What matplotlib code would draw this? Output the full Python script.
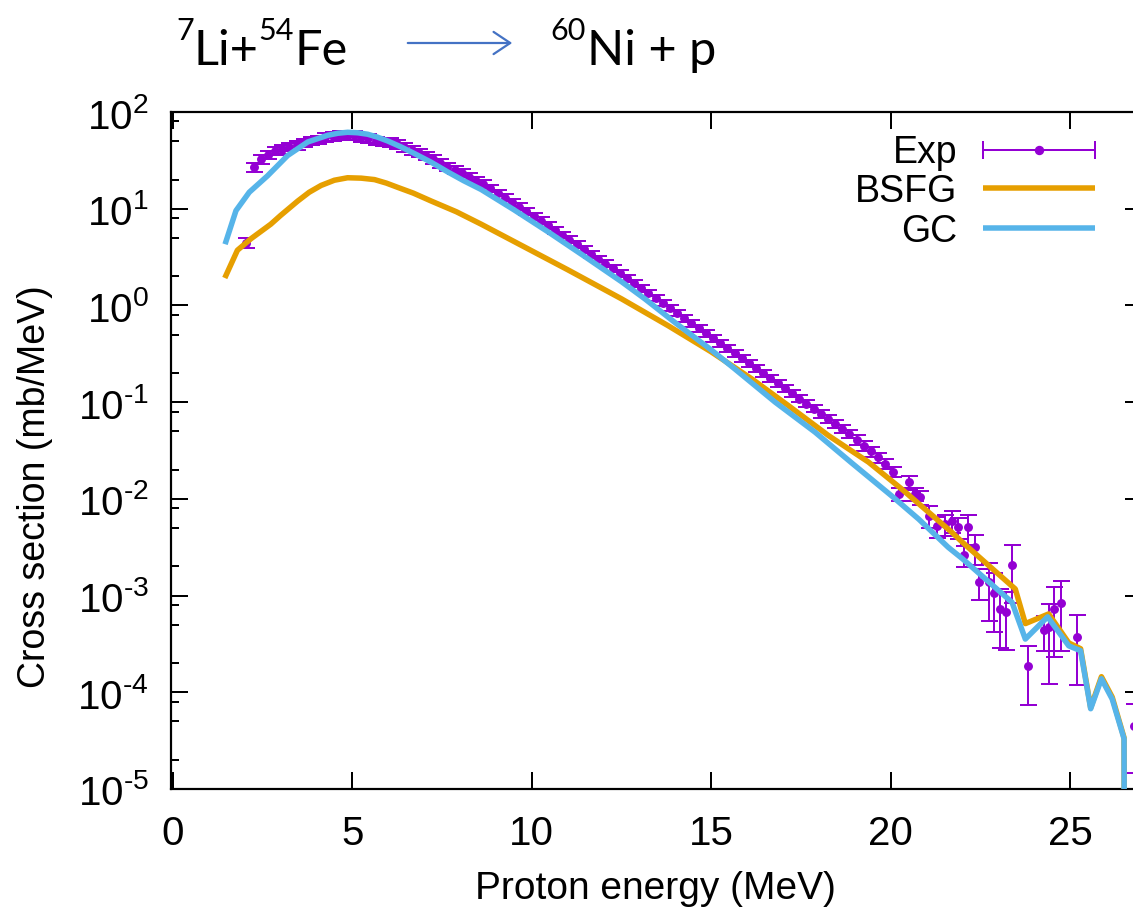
import matplotlib
matplotlib.use('Agg')
import matplotlib.pyplot as plt
from matplotlib.ticker import FixedLocator, LogLocator, NullFormatter
from matplotlib.patches import FancyArrowPatch

# ---------------- data ----------------
exp_E = [2.05, 2.25, 2.45, 2.65, 2.85, 3.05, 3.25, 3.45, 3.65, 3.85, 4.05, 4.25, 4.45, 4.65,
         4.85, 5.05, 5.25, 5.45, 5.65, 5.85, 6.05, 6.25, 6.45, 6.65, 6.85, 7.05, 7.25, 7.45,
         7.65, 7.85, 8.05, 8.25, 8.45, 8.65, 8.85, 9.05, 9.25, 9.45, 9.65, 9.85, 10.05, 10.25,
         10.45, 10.65, 10.85, 11.05, 11.25, 11.45, 11.65, 11.85, 12.05, 12.25, 12.45, 12.65,
         12.85, 13.05, 13.25, 13.45, 13.65, 13.85, 14.05, 14.25, 14.45, 14.65, 14.85, 15.05,
         15.25, 15.45, 15.65, 15.85, 16.05, 16.25, 16.45, 16.65, 16.85, 17.05, 17.25, 17.45,
         17.65, 17.85, 18.05, 18.25, 18.45, 18.65, 18.85, 19.05, 19.25, 19.45, 19.65, 19.85,
         20.05, 20.22, 20.5, 20.68, 20.82, 21.06, 21.29, 21.5, 21.71, 21.87, 22.03, 22.15,
         22.34, 22.45, 22.73, 22.89, 23.05, 23.22, 23.38, 23.82, 24.27, 24.4, 24.56, 24.73,
         25.2, 26.78]
exp_val = [4.47, 26.9, 32.4, 36.3, 39.8, 41.2, 43.7, 45.2, 47.9, 50.1, 51.9, 55.0, 56.2, 58.2,
           56.9, 57.5, 55.0, 53.7, 50.7, 49.5, 48.4, 46.2, 43.2, 40.3, 38.0, 35.1, 32.4, 29.5,
           27.2, 25.4, 23.4, 21.4, 19.5, 18.0, 16.2, 14.6, 13.0, 11.7, 10.5, 9.38, 8.39, 7.52,
           6.71, 6.00, 5.36, 4.79, 4.28, 3.82, 3.40, 3.03, 2.70, 2.41, 2.15, 1.91,
           1.70, 1.51, 1.35, 1.20, 1.06, 0.942, 0.836, 0.741, 0.658, 0.583, 0.518, 0.459,
           0.407, 0.361, 0.321, 0.284, 0.252, 0.224, 0.199, 0.176, 0.156, 0.139, 0.123, 0.109,
           0.0968, 0.0859, 0.0762, 0.0676, 0.0600, 0.0532, 0.0468, 0.0407, 0.0355, 0.0309,
           0.0269, 0.0232,
           0.0190, 0.0112, 0.0148, 0.0112, 0.0104, 6.7e-3, 5.25e-3, 5.5e-3, 5.96e-3, 5.08e-3,
           2.63e-3, 5.08e-3,
           3.16e-3, 1.39e-3, 1.37e-3, 1.06e-3, 7.26e-4, 6.82e-4, 2.07e-3, 1.86e-4, 4.41e-4,
           4.70e-4, 7.26e-4, 8.38e-4,
           3.76e-4, 4.52e-5]
exp_relerr = [0.12] + [0.10] * 33 + [0.08] * 31 + [0.09] * 15 + [0.10] * 5 + [0.12] * 6 + \
             [0.16] * 4 + [0.25] * 6 + [0.35] * 3 + [0.60] * 6 + [0.40, 0.74, 0.68, 0.68, 0.68,
                                                                0.68, 0.72, 0.80]

bsfg_E = [1.48, 1.8, 2.18, 2.73, 3.0, 3.48, 3.8, 4.13, 4.5, 4.87, 5.25, 5.62, 5.95, 6.27, 6.7,
          7.2, 7.9, 8.59, 10.0, 11.0, 12.5, 13.8, 15.0, 16.13, 17.15, 18.27, 19.38, 20.31,
          21.7, 22.0, 23.47, 23.75, 24.4, 24.96, 25.29, 25.57, 25.87, 26.17, 26.5, 26.52]
bsfg_val = [2.04, 3.72, 4.90, 6.92, 8.5, 12.0, 14.8, 17.4, 19.7, 20.9, 20.7, 20.0, 18.4, 16.6,
            14.5, 12.0, 9.3, 6.92, 3.67, 2.34, 1.17, 0.617, 0.331, 0.174, 0.092, 0.045, 0.024,
            0.0126, 4.52e-3, 3.55e-3, 1.17e-3, 5.13e-4, 6.46e-4, 3.24e-4, 2.82e-4, 6.92e-5,
            1.45e-4, 8.91e-5, 3.39e-5, 1e-9]

gc_E = [1.48, 1.76, 2.13, 2.64, 3.2, 3.76, 4.32, 4.6, 4.87, 5.15, 5.43, 5.7, 5.99, 6.35, 6.73,
        7.2, 7.66, 8.1, 8.59, 9.5, 10.5, 11.5, 12.5, 13.15, 14.0, 15.0, 15.66, 16.78, 17.89,
        18.92, 20.03, 20.78, 21.6, 22.0, 23.38, 23.75, 24.37, 24.96, 25.29, 25.57, 25.87,
        26.17, 26.5, 26.52]
gc_val = [4.57, 9.55, 14.8, 21.9, 35.5, 49.0, 57.5, 60.3, 61.7, 61.0, 58.9, 55.0, 50.1, 43.7,
          37.2, 30.2, 24.0, 19.5, 15.8, 9.77, 5.62, 3.16, 1.76, 1.17, 0.661, 0.347, 0.220,
          0.100, 0.049, 0.0234, 0.0107, 6.17e-3, 3.16e-3, 2.40e-3, 8.51e-4, 3.55e-4, 6.03e-4,
          3.02e-4, 2.69e-4, 6.76e-5, 1.38e-4, 8.51e-5, 3.31e-5, 1e-9]

x_ticks = [0, 5, 10, 15, 20, 25]
x_ticklabels = ['0', '5', '10', '15', '20', '25']
y_ticks = [1e-5, 1e-4, 1e-3, 1e-2, 1e-1, 1e0, 1e1, 1e2]
y_ticklabels = ['$10^{\u20105}$', '$10^{\u20104}$', '$10^{\u20103}$', '$10^{\u20102}$',
                '$10^{\u20101}$', '$10^{0}$', '$10^{1}$', '$10^{2}$']
legend_labels = ['Exp', 'BSFG', 'GC']

C_EXP = '#9400D3'
C_BSFG = '#E69F00'
C_GC = '#56B4E9'

# ---------------- figure ----------------
plt.rcParams['font.family'] = ['Liberation Sans', 'DejaVu Sans']
plt.rcParams['mathtext.fontset'] = 'custom'
plt.rcParams['mathtext.rm'] = 'Liberation Sans'
plt.rcParams['mathtext.it'] = 'Liberation Sans:italic'
plt.rcParams['mathtext.bf'] = 'Liberation Sans:bold'

W, H = 1133, 912
PT = 0.72  # points per pixel at dpi 100
fig = plt.figure(figsize=(W / 100, H / 100), dpi=100)
AX_L, AX_R, AX_T, AX_B = 171, 1142, 113, 790
ax = fig.add_axes([AX_L / W, (H - AX_B) / H, (AX_R - AX_L) / W, (AX_B - AX_T) / H])


def axc(px, py):
    return (px - AX_L) / (AX_R - AX_L), (AX_B - py) / (AX_B - AX_T)


exp_err = [v * r for v, r in zip(exp_val, exp_relerr)]
ax.errorbar(exp_E, exp_val, yerr=exp_err, fmt='o', ms=7.5 * PT, color=C_EXP, ecolor=C_EXP,
            elinewidth=2 * PT, capsize=8.5 * PT, capthick=2 * PT, zorder=2)
ax.plot(bsfg_E, bsfg_val, color=C_BSFG, lw=5.5 * PT, zorder=3)
ax.plot(gc_E, gc_val, color=C_GC, lw=5.5 * PT, zorder=4)

ax.set_xlim(-0.05, 27.0)
ax.set_yscale('log')
ax.set_ylim(1e-5, 1e2)
ax.set_xticks(x_ticks)
ax.set_xticklabels(x_ticklabels)
ax.yaxis.set_major_locator(FixedLocator(y_ticks))
ax.set_yticklabels(y_ticklabels)
ax.yaxis.set_minor_locator(LogLocator(base=10, subs=(2, 5, 8)))
ax.yaxis.set_minor_formatter(NullFormatter())
ax.xaxis.set_minor_locator(FixedLocator([]))

ax.tick_params(which='major', direction='in', length=17 * PT, width=2 * PT,
               top=True, right=True, labelsize=29, color='black')
ax.tick_params(which='minor', direction='in', length=8 * PT, width=2 * PT,
               top=True, right=True)
ax.tick_params(axis='x', which='major', pad=18)
ax.tick_params(axis='y', which='major', pad=16)
for s in ax.spines.values():
    s.set_linewidth(2.2 * PT)

fig.text(655 / W, 1 - 889 / H, 'Proton energy (MeV)', ha='center', va='center', fontsize=28)
fig.text(35 / W, 1 - 487 / H, 'Cross section (mb/MeV)', ha='center', va='center',
         rotation=90, fontsize=27)

# ---------------- legend (gnuplot style key) ----------------
rows_text = [163, 201.5, 241.5]
rows_line = [150.7, 189.3, 228.7]
x_txt = 957
x0, x1 = 983, 1095
for lab, yt in zip(legend_labels, rows_text):
    ax.text(*axc(x_txt, yt), lab, transform=ax.transAxes, ha='right', va='baseline',
            fontsize=27)
xa0, ya = axc(x0, rows_line[0])
xa1, _ = axc(x1, rows_line[0])
ax.plot([xa0, xa1], [ya, ya], color=C_EXP, lw=2 * PT, transform=ax.transAxes, clip_on=False)
ax.plot([xa0, xa1], [ya, ya], ls='none', marker='|', ms=18 * PT, mew=2 * PT, color=C_EXP,
        transform=ax.transAxes, clip_on=False)
ax.plot([(xa0 + xa1) / 2], [ya], ls='none', marker='o', ms=8 * PT, color=C_EXP,
        transform=ax.transAxes, clip_on=False)
for yl, c in zip(rows_line[1:], [C_BSFG, C_GC]):
    _, yy = axc(x0, yl)
    ax.plot([xa0, xa1], [yy, yy], color=c, lw=5.5 * PT, transform=ax.transAxes,
            clip_on=False, solid_capstyle='butt')

# ---------------- title ----------------
renderer = fig.canvas.get_renderer()
BASE = 65
TSIZE = 35
SSIZE = 22
RISE = 25


def piece(xpx, txt, sup=False):
    y = BASE - (RISE if sup else 0)
    t = fig.text(xpx / W, 1 - y / H, txt, fontsize=SSIZE if sup else TSIZE,
                 family=['Lato', 'DejaVu Sans'], ha='left', va='baseline')
    bb = t.get_window_extent(renderer)
    return bb.x1


x = 176
x = piece(x, '7', True)
x = piece(x, 'Li+')
x = piece(x, '54', True)
x = piece(x, 'Fe')
x = 550
x = piece(x, '60', True)
x = piece(x + 2, 'Ni + p')

arr = FancyArrowPatch((405 / W, 1 - 44 / H), (515 / W, 1 - 44 / H),
                      transform=fig.transFigure, arrowstyle='->,head_length=12,head_width=8',
                      mutation_scale=1, color='#4472C4', lw=1.6)
fig.add_artist(arr)

fig.savefig('out.png', dpi=100)
